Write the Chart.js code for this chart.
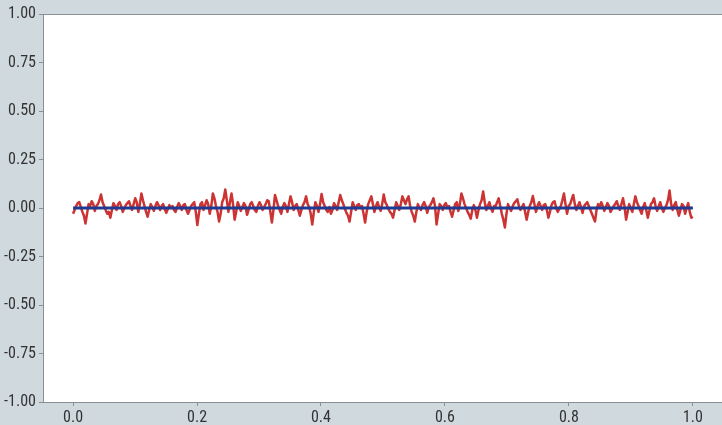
<!DOCTYPE html>
<html><head><meta charset="utf-8">
<script src="https://cdn.jsdelivr.net/npm/chart.js@4"></script>
<style>html,body{margin:0;padding:0;background:#d0d9dd}#wrap{width:722px;height:425px}</style>
</head><body><div id="wrap"><canvas id="c" width="722" height="425"></canvas></div>
<script>
const noiseValues = [
 -0.03,-0.01, 0.01,0.025, 0.03,0.005, -0.02,-0.04, -0.08,-0.03, 0.02,0.01, 0.035,0.02, -0.015,0.01, 0.02,0.04, 0.07,0.03,
 0.01,-0.01, -0.03,-0.02, -0.05,-0.01, 0.025,0.01, -0.01,0.02, 0.03,0.01, -0.02,0.0, 0.015,0.025, 0.035,0.01, -0.01,0.02,
 0.05,0.03, -0.02,0.02, 0.075,0.04, 0.01,-0.02, -0.045,-0.01, 0.02,0.005, -0.015,0.01, 0.03,0.015, -0.01,0.01, 0.02,-0.005,
 -0.025,-0.005, 0.015,0.0, 0.01,-0.01, -0.02,0.005, 0.025,0.01, -0.01,0.015, 0.02,-0.01, -0.03,-0.01, 0.01,0.02, 0.03,-0.02,
 -0.088,-0.03, 0.02,0.03, -0.01,0.015, 0.04,0.02, -0.03,0.01, 0.075,0.05, 0.01,-0.02, -0.07,-0.03, 0.03,0.05, 0.095,0.04,
 -0.02,0.03, 0.075,0.02, -0.06,-0.02, 0.03,0.01, -0.015,0.005, 0.025,0.01, -0.035,-0.01, 0.02,0.03, 0.01,-0.01, -0.02,0.01,
 0.03,0.015, -0.01,0.005, 0.02,0.04, 0.035,-0.02, -0.075,-0.01, 0.067,0.04, 0.01,-0.01, -0.03,0.005, 0.025,0.01, -0.02,0.02,
 0.06,0.03, -0.01,0.01, 0.02,-0.01, -0.04,-0.01, 0.015,0.03, 0.06,0.02, 0.005,-0.03, -0.085,-0.02, 0.03,0.01, -0.02,0.02,
 0.072,0.03, 0.01,-0.01, -0.02,0.005, -0.03,-0.01, 0.025,0.01, -0.01,0.03, 0.067,0.04, 0.02,-0.005, -0.025,-0.04, -0.07,-0.02,
 0.03,0.01, -0.01,0.015, 0.02,0.0, 0.01,-0.03, -0.075,-0.02, 0.02,0.04, 0.06,0.02, -0.02,0.01, 0.03,0.005, -0.015,0.02,
 0.07,0.03, 0.015,-0.005, -0.02,-0.03, -0.05,-0.01, 0.03,0.01, -0.01,0.02, 0.06,0.04, 0.02,0.045, 0.06,0.01, -0.02,-0.04,
 -0.07,-0.02, 0.02,0.0, -0.01,0.015, 0.03,0.01, -0.025,0.005, 0.015,0.03, 0.05,0.01, -0.085,-0.03, 0.02,0.01, -0.01,0.015,
 0.025,0.0, 0.01,-0.02, -0.045,-0.01, 0.02,0.03, -0.015,0.02, 0.075,0.05, 0.02,0.0, -0.02,-0.035, -0.055,-0.01, 0.015,-0.01,
 -0.05,-0.01, 0.02,0.04, 0.085,0.03, -0.01,0.01, 0.03,0.0, -0.02,0.01, 0.01,0.03, 0.05,0.01, -0.03,-0.06, -0.1,-0.03,
 0.02,0.0, -0.015,0.01, 0.025,0.035, 0.045,0.01, -0.01,0.005, 0.02,-0.02, -0.06,-0.02, 0.01,0.03, 0.062,0.02, -0.02,0.01,
 0.03,0.01, -0.01,0.015, 0.02,-0.01, -0.05,-0.02, 0.015,0.03, 0.035,0.0, -0.02,-0.005, 0.01,0.04, 0.075,0.02, -0.03,0.01,
 0.02,0.045, 0.067,0.02, -0.01,0.01, 0.03,0.005, -0.025,0.01, 0.02,0.03, 0.01,-0.01, -0.03,-0.05, -0.07,-0.01, 0.02,0.005,
 0.03,0.01, -0.015,0.005, 0.025,0.01, -0.02,-0.005, 0.01,0.02, 0.035,0.01, -0.01,0.02, 0.05,0.01, -0.06,-0.02, 0.02,0.0,
 -0.02,0.02, 0.06,0.03, 0.01,-0.01, -0.03,0.005, 0.025,-0.01, -0.05,-0.015, 0.02,0.03, 0.05,0.01, -0.015,0.01, 0.03,0.0,
 -0.02,0.0, 0.015,0.04, 0.09,0.02, -0.01,0.015, 0.03,-0.01, -0.04,-0.01, 0.02,0.01, -0.03,0.0, 0.025,-0.02, -0.05,-0.045
];
const xStart = 0, xEnd = 1;
const baselineX = [0, 1];
const baselineY = [0, 0];
const xTicks = [0, 0.2, 0.4, 0.6, 0.8, 1.0];
const yTicks = [-1, -0.75, -0.5, -0.25, 0, 0.25, 0.5, 0.75, 1];

const n = noiseValues.length;
const noisePts = noiseValues.map((v, i) => ({x: xStart + (xEnd - xStart) * i / (n - 1), y: v}));
const basePts = baselineX.map((x, i) => ({x: x, y: baselineY[i]}));

const bgPlugin = {
  id: 'bg',
  beforeDraw(chart) {
    const {ctx, chartArea: a} = chart;
    ctx.save();
    ctx.fillStyle = '#d0d9dd';
    ctx.fillRect(0, 0, chart.width, chart.height);
    ctx.fillStyle = '#ffffff';
    ctx.fillRect(a.left, a.top, a.right - a.left, a.bottom - a.top);
    ctx.restore();
  },
  afterDraw(chart) {
    const {ctx, chartArea: a} = chart;
    ctx.save();
    ctx.strokeStyle = '#8a8f92';
    ctx.lineWidth = 1;
    ctx.strokeRect(a.left + 0.5, a.top + 0.5, a.right - a.left, a.bottom - a.top);
    ctx.restore();
  }
};

const font = {family: '"Liberation Sans Narrow", "Roboto Condensed", Roboto, sans-serif', size: 16};

new Chart(document.getElementById('c'), {
  type: 'line',
  data: {
    datasets: [
      {data: basePts, borderColor: '#1f3a93', borderWidth: 3, pointRadius: 0, tension: 0, order: 0},
      {data: noisePts, borderColor: '#cc3333', borderWidth: 2.5, borderJoinStyle: 'round', pointRadius: 0, tension: 0, order: 1}
    ]
  },
  options: {
    responsive: false,
    animation: false,
    layout: {padding: {top: 14, right: 0, left: 0, bottom: 0}},
    plugins: {legend: {display: false}, tooltip: {enabled: false}},
    scales: {
      x: {
        type: 'linear', min: -0.0485, max: 1.047,
        afterBuildTicks(s) { s.ticks = xTicks.map(v => ({value: v})); },
        afterFit(s) { s.height = 23; },
        grid: {display: true, drawOnChartArea: false, drawTicks: true, tickLength: 4, color: '#8a8f92'},
        border: {display: true, color: '#8a8f92'},
        ticks: {font: font, color: '#333333', padding: 2, maxRotation: 0, callback: v => Number(v).toFixed(1)}
      },
      y: {
        type: 'linear', min: -1, max: 1,
        afterBuildTicks(s) { s.ticks = yTicks.map(v => ({value: v})); },
        afterFit(s) { s.width = 43; },
        grid: {display: true, drawOnChartArea: false, drawTicks: true, tickLength: 4, color: '#8a8f92'},
        border: {display: true, color: '#8a8f92'},
        ticks: {font: font, color: '#333333', padding: 3, callback: v => Number(v).toFixed(2)}
      }
    }
  },
  plugins: [bgPlugin]
});
</script>
</body></html>
